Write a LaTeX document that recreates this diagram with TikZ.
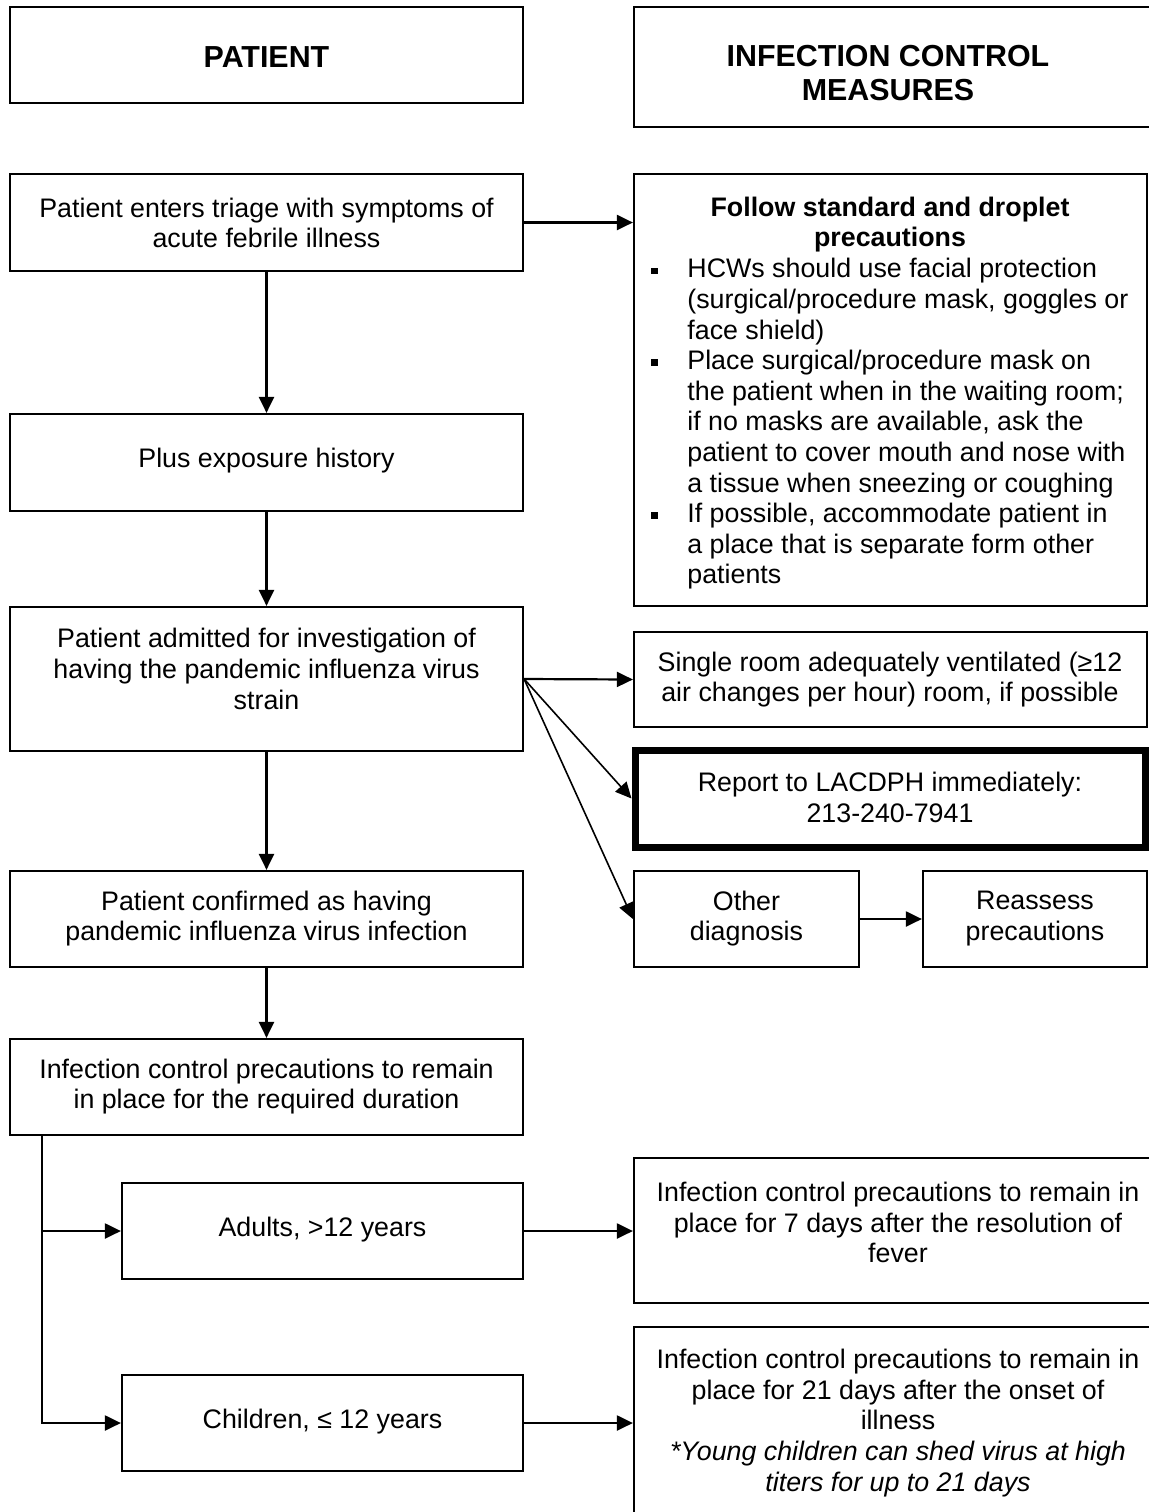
\documentclass[tikz,border=0pt]{standalone}
\usepackage{fontspec}
\setmainfont{Liberation Sans}
\usetikzlibrary{arrows.meta}
\newcommand{\mybul}{\makebox[18pt][l]{\rule[2pt]{3.2pt}{3.2pt}}}
\newcommand{\myind}{\hspace*{18pt}}
\begin{document}
\begin{tikzpicture}[x=0.5pt,y=-0.5pt,
  box/.style={draw=black, line width=1.1pt, inner sep=0pt, rectangle},
  thickbox/.style={box, line width=3.5pt},
  txt/.style={inner sep=0pt, align=center, font=\fontsize{13.4pt}{15.3pt}\selectfont},
  btxt/.style={txt, font=\fontsize{13.4pt}{15.3pt}\selectfont\bfseries},
  htxt/.style={inner sep=0pt, align=center, font=\fontsize{15.2pt}{17pt}\selectfont\bfseries},
  arr/.style={line width=1.1pt, -{Triangle[length=8pt,width=7.5pt]}},
  darr/.style={line width=0.8pt, -{Triangle[length=8pt,width=7.5pt]}}]
\clip (0,0) rectangle (1149,1512);
\fill[white] (0,0) rectangle (1149,1512);

% ---------- boxes ----------
\node[box, minimum width=256.5pt, minimum height=48pt] (hpat) at (266.5,55) {};
\node[box, minimum width=264pt, minimum height=60pt] (hicm) at (898,67) {};
\node[box, minimum width=256.5pt, minimum height=48.5pt] (b1) at (266.5,222.5) {};
\node[box, minimum width=256.5pt, minimum height=216pt] (follow) at (890.5,390) {};
\node[box, minimum width=256.5pt, minimum height=48.5pt] (b2) at (266.5,462.5) {};
\node[box, minimum width=256.5pt, minimum height=72pt] (b3) at (266.5,679) {};
\node[box, minimum width=256.5pt, minimum height=47.5pt] (single) at (890.5,679.5) {};
\node[thickbox, minimum width=255pt, minimum height=48.5pt] (thick) at (890,798.5) {};
\node[box, minimum width=112.5pt, minimum height=48pt] (other) at (746.5,919) {};
\node[box, minimum width=112pt, minimum height=48pt] (reass) at (1035,919) {};
\node[box, minimum width=256.5pt, minimum height=48pt] (b4) at (266.5,919) {};
\node[box, minimum width=256.5pt, minimum height=48pt] (b5) at (266.5,1087) {};
\node[box, minimum width=200.5pt, minimum height=48pt] (adults) at (322.5,1231) {};
\node[box, minimum width=200.5pt, minimum height=48pt] (children) at (322.5,1423) {};
\node[box, minimum width=264pt, minimum height=72.5pt] (d7) at (898,1230.5) {};
\node[box, minimum width=264pt, minimum height=106.5pt] (d21) at (898,1433.5) {};

% ---------- texts ----------
\node[htxt] (tpat) at (266.5,57) {PATIENT};
\node[htxt] (ticm) at (888,73) {INFECTION CONTROL\\MEASURES};
\node[txt] (t1) at (266.5,223) {Patient enters triage with symptoms of\\acute febrile illness};
\node[btxt] (tfolh) at (890,224.5) {Follow standard and droplet\\precautions};
\node[txt, align=left, anchor=west] (tfolb) at (651,424) {%
\mybul HCWs should use facial protection\\
\myind (surgical/procedure mask, goggles or\\
\myind face shield)\\
\mybul Place surgical/procedure mask on\\
\myind the patient when in the waiting room;\\
\myind if no masks are available, ask the\\
\myind patient to cover mouth and nose with\\
\myind a tissue when sneezing or coughing\\
\mybul If possible, accommodate patient in\\
\myind a place that is separate form other\\
\myind patients};
\node[txt] (t2) at (266.5,461) {Plus exposure history};
\node[txt] (t3) at (266.5,669) {Patient admitted for investigation of\\having the pandemic influenza virus\\strain};
\node[txt] (tsingle) at (890,679.5) {Single room adequately ventilated (≥12\\air changes per hour) room, if possible};
\node[txt] (tthick) at (890,797.5) {Report to LACDPH immediately:\\213-240-7941};
\node[txt] (tother) at (746.5,918.5) {Other\\diagnosis};
\node[txt] (treass) at (1035,918.5) {Reassess\\precautions};
\node[txt] (t4) at (266.5,918.5) {Patient confirmed as having\\pandemic influenza virus infection};
\node[txt] (t5) at (266.5,1086.5) {Infection control precautions to remain\\in place for the required duration};
\node[txt] (tadult) at (322.5,1230) {Adults, >12 years};
\node[txt] (tchild) at (322.5,1422) {Children, ≤ 12 years};
\node[txt] (td7) at (898,1222.5) {Infection control precautions to remain in\\place for 7 days after the resolution of\\fever};
\node[txt] (td21) at (898,1423) {Infection control precautions to remain in\\place for 21 days after the onset of\\illness\\\textit{*Young children can shed virus at high}\\\textit{titers for up to 21 days}};

% ---------- connectors ----------
\draw[arr] (b1) -- (b2);
\draw[arr] (b2) -- (b3);
\draw[arr] (b3) -- (b4);
\draw[arr] (b4) -- (b5);
\draw[arr] (b1.east) -- (b1.east -| follow.west);
\draw[arr] (b3.east) -- (single.west);
\draw[darr] (b3.east) -- (thick.west);
\draw[darr] (b3.east) -- (other.west);
\draw[arr] (other) -- (reass);
\coordinate (br) at ([xshift=16.5pt]b5.south west);
\draw[arr] (br) |- (children.west);
\draw[arr] (br |- adults.west) -- (adults.west);
\draw[arr] (adults) -- (adults.east -| d7.west);
\draw[arr] (children) -- (children.east -| d21.west);
\end{tikzpicture}
\end{document}
